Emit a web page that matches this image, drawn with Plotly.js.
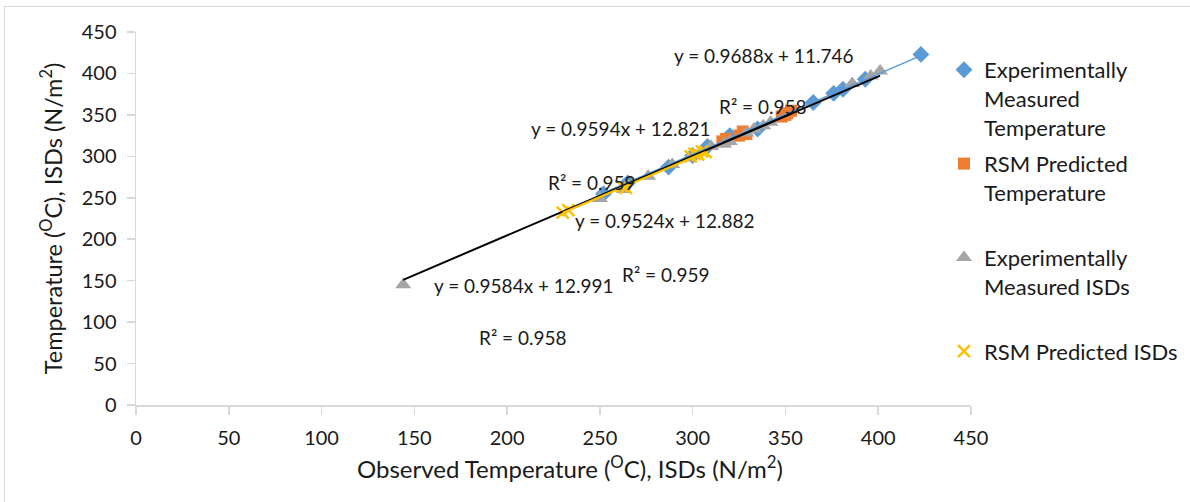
<!DOCTYPE html>
<html>
<head>
<meta charset="utf-8">
<script src="https://cdn.plot.ly/plotly-3.0.1.min.js"></script>
<style>
  html, body { margin: 0; padding: 0; background: #fff; }
  #frame { position: absolute; left: 4px; top: 6px; width: 1300px; height: 700px; border: 1.5px solid #d9d9d9; box-sizing: border-box; }
  #chart { position: absolute; left: 0; top: 0; width: 1190px; height: 502px; }
</style>
</head>
<body>
<div id="frame"></div>
<div id="chart"></div>
<script>
// ---- data ----
const seriesNames = [
  "Experimentally<br>Measured<br>Temperature",
  "RSM Predicted<br>Temperature<br>\u00a0",
  "Experimentally<br>Measured ISDs<br>\u00a0",
  "RSM Predicted ISDs"
];
const expTempX = [252, 265, 287, 300, 308, 320, 335, 365, 376, 381, 393, 423];
const expTempY = [255, 268, 287, 301, 312, 325, 333, 365, 376, 381, 393, 423];
const rsmTempX = [316, 318, 325, 327, 329, 348, 350, 351, 353];
const rsmTempY = [318, 321, 325, 330, 327, 348, 350, 352, 355];
const expIsdX = [144, 250, 263, 276, 289, 298, 301, 310, 317, 320, 329, 333, 338, 342, 386, 396, 401];
const expIsdY = [145, 249, 260, 276, 290, 298, 301, 312, 315, 318, 328, 333, 337, 341, 388, 397, 403];
const rsmIsdX = [230, 233, 262, 264, 299, 301, 303, 305, 307];
const rsmIsdY = [232, 235, 264, 262, 300, 303, 302, 306, 305];

// trendline equations shown on the chart
const trendSlope = [0.9688, 0.9594, 0.9584, 0.9524];
const trendIntercept = [11.746, 12.821, 12.991, 12.882];
const trendR2 = [0.958, 0.959, 0.958, 0.959];
// label anchor positions (data units): equation and R² label
const eqLabelX = [338, 261, 208.6, 285];
const eqLabelY = [422, 334, 144.7, 222];
const r2LabelX = [338, 245.8, 208.6, 285.7];
const r2LabelY = [360.7, 269, 82, 158];

const xTicks = [0, 50, 100, 150, 200, 250, 300, 350, 400, 450];
const yTicks = [0, 50, 100, 150, 200, 250, 300, 350, 400, 450];
const xTitle = "Observed Temperature (<sup>O</sup>C), ISDs (N/m<sup>2</sup>)";
const yTitle = "Temperature (<sup>O</sup>C), ISDs (N/m<sup>2</sup>)";

// ---- styles ----
const FONT = "Lato, 'Open Sans', sans-serif";
const TXT = "#1a1a1a";
const AX = "#d9d9d9";
const colors = ["#5B9BD5", "#ED7D31", "#A5A5A5", "#FFC000"];
const symbols = ["diamond", "square", "triangle-up", "x-thin-open"];
const sizes = [13, 12, 14, 12];

const allX = [expTempX, rsmTempX, expIsdX, rsmIsdX];
const allY = [expTempY, rsmTempY, expIsdY, rsmIsdY];

const traces = [];
for (let i = 0; i < 4; i++) {
  traces.push({
    type: "scatter", mode: "markers",
    x: allX[i], y: allY[i],
    name: seriesNames[i],
    legendgroup: "g" + i,
    marker: {
      color: colors[i], symbol: symbols[i], size: sizes[i],
      line: i === 3 ? { color: colors[i], width: 2.5 } : { width: 0 }
    },
    hoverinfo: "x+y"
  });
}

function trend(idx, xs, color, width) {
  const lo = Math.min(...xs), hi = Math.max(...xs);
  return {
    type: "scatter", mode: "lines", showlegend: false, hoverinfo: "skip",
    x: [lo, hi],
    y: [trendSlope[idx] * lo + trendIntercept[idx], trendSlope[idx] * hi + trendIntercept[idx]],
    line: { color: color, width: width }
  };
}
traces.push(trend(0, expTempX, "#5B9BD5", 1.5));
traces.push(trend(1, rsmTempX, "#000000", 2));
traces.push(trend(2, expIsdX, "#000000", 2));
traces.push(trend(3, rsmIsdX, "#FFC000", 2));

// plot area: 136px..971px wide inside a paper that runs to 1190px
const PAPER_W = 1190 - 136;
const X_END = (971 - 136) / PAPER_W;

const annotations = [];
for (let i = 0; i < 4; i++) {
  annotations.push({
    x: eqLabelX[i], y: eqLabelY[i], xref: "x", yref: "y",
    text: "y = " + trendSlope[i].toFixed(4) + "x + " + trendIntercept[i].toFixed(3),
    showarrow: false, font: { family: FONT, size: 19, color: TXT }
  });
  annotations.push({
    x: r2LabelX[i], y: r2LabelY[i], xref: "x", yref: "y",
    text: "R\u00b2 = " + trendR2[i].toFixed(3),
    showarrow: false, font: { family: FONT, size: 19, color: TXT }
  });
}
// x-axis title (centred as in the reference, slightly right of the plot centre)
annotations.push({
  xref: "paper", yref: "paper", x: (570 - 136) / PAPER_W, y: (405 - 467) / 373,
  xanchor: "center", yanchor: "middle", showarrow: false,
  text: xTitle, font: { family: FONT, size: 24, color: TXT }
});

const layout = {
  width: 1190, height: 502,
  paper_bgcolor: "rgba(0,0,0,0)", plot_bgcolor: "rgba(0,0,0,0)",
  margin: { l: 136, r: 0, t: 32, b: 97 },
  font: { family: FONT, color: TXT, size: 20 },
  xaxis: {
    domain: [0, X_END],
    range: [0, 450], tickvals: xTicks, ticktext: xTicks.map(String),
    showgrid: false, zeroline: false, showline: true, linecolor: AX, linewidth: 1.5,
    ticks: "outside", ticklen: 8, tickcolor: AX, tickwidth: 1.5, ticklabelstandoff: 6,
    tickfont: { family: FONT, size: 20, color: TXT }
  },
  yaxis: {
    range: [0, 450], tickvals: yTicks, ticktext: yTicks.map(String),
    showgrid: false, zeroline: false, showline: true, linecolor: AX, linewidth: 1.5,
    ticks: "outside", ticklen: 8, tickcolor: AX, tickwidth: 1.5, ticklabelstandoff: 6,
    tickfont: { family: FONT, size: 20, color: TXT },
    title: { text: yTitle, font: { family: FONT, size: 23.5, color: TXT }, standoff: 12 }
  },
  legend: {
    x: (944 - 136) / PAPER_W, xanchor: "left", y: (405 - 49) / 373, yanchor: "top",
    font: { family: FONT, size: 22, color: TXT },
    valign: "top", tracegroupgap: 5, itemwidth: 30,
    bgcolor: "rgba(0,0,0,0)"
  },
  annotations: annotations,
  showlegend: true
};

Plotly.newPlot("chart", traces, layout, { displayModeBar: false, staticPlot: true });
</script>
</body>
</html>
